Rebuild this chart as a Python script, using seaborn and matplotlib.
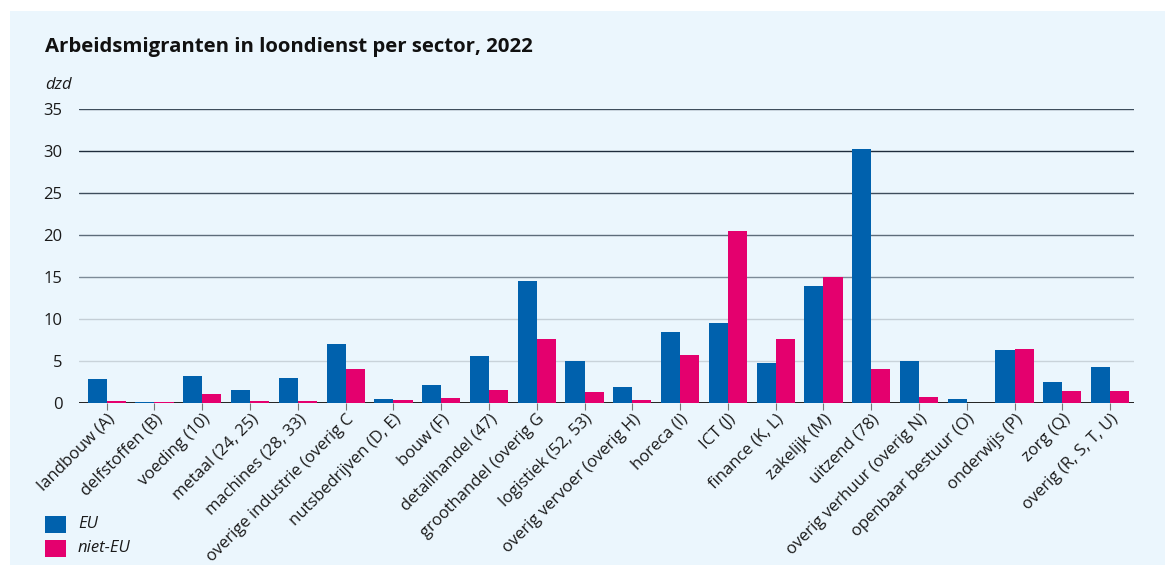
import pandas as pd
import matplotlib.pyplot as plt
import seaborn as sns
from matplotlib.patches import Rectangle

# Data (dzd)
sectors = [
    "landbouw (A)", "delfstoffen (B)", "voeding (10)", "metaal (24, 25)",
    "machines (28, 33)", "overige industrie (overig C", "nutsbedrijven (D, E)",
    "bouw (F)", "detailhandel (47)", "groothandel (overig G", "logistiek (52, 53)",
    "overig vervoer (overig H)", "horeca (I)", "ICT (J)", "finance (K, L)",
    "zakelijk (M)", "uitzend (78)", "overig verhuur (overig N)",
    "openbaar bestuur (O)", "onderwijs (P)", "zorg (Q)", "overig (R, S, T, U)",
]
eu = [2.8, 0.15, 3.25, 1.6, 3.0, 7.0, 0.45, 2.1, 5.55, 14.5, 4.95,
      1.95, 8.4, 9.55, 4.75, 13.9, 30.2, 4.95, 0.45, 6.3, 2.5, 4.3]
niet_eu = [0.2, 0.15, 1.05, 0.2, 0.2, 4.05, 0.3, 0.55, 1.5, 7.6, 1.3,
           0.35, 5.7, 20.5, 7.6, 15.0, 4.1, 0.7, 0.0, 6.4, 1.4, 1.4]
groups = ["EU", "niet-EU"]
yticks = [0, 5, 10, 15, 20, 25, 30, 35]

df = pd.DataFrame({
    "sector": sectors * 2,
    "herkomst": [groups[0]] * len(sectors) + [groups[1]] * len(sectors),
    "waarde": eu + niet_eu,
})

sns.set_theme(style="white")
plt.rcParams["font.family"] = ["Open Sans", "DejaVu Sans"]

bg = "#ebf6fd"
colors = {"EU": "#0061ad", "niet-EU": "#e4006e"}
txt = "#1a1a1a"

fig = plt.figure(figsize=(11.65, 5.69), dpi=100)
fig.patch.set_facecolor("white")
fig.patches.append(Rectangle((10 / 1165, 4 / 569), 1155 / 1165, 554 / 569,
                             transform=fig.transFigure, facecolor=bg,
                             edgecolor="none", zorder=-10))

ax = fig.add_axes([79 / 1165, 1 - 403 / 569, (1134 - 79) / 1165, (403 - 109) / 569])
ax.set_facecolor(bg)

# gridlines, darker towards the top as in the original
grid_cols = {5: "#c9d3da", 10: "#c4ced6", 15: "#7d8b98", 20: "#5d6c7a",
             25: "#3e4d5c", 30: "#1e2c3b", 35: "#3e4d5c"}
for v, c in grid_cols.items():
    ax.axhline(v, color=c, lw=1.0, zorder=0)

ax.axhline(0, color="#111111", lw=1.3, zorder=1)

sns.barplot(data=df, x="sector", y="waarde", hue="herkomst", palette=colors,
            width=0.8, gap=0, saturation=1, legend=False, ax=ax, zorder=2,
            linewidth=0, edgecolor="none")

ax.set_ylim(0, 35)
ax.set_xlim(-0.58, 21.5)
ax.set_yticks(yticks)
ax.set_yticklabels([str(v) for v in yticks], fontsize=12, color=txt)
ax.tick_params(axis="y", length=0, pad=12)
ax.tick_params(axis="x", length=5, width=0.8, color="#777777", bottom=True,
               direction="out", pad=1)
ax.set_xticks(range(len(sectors)))
ax.set_xticklabels(sectors, rotation=45, ha="right", rotation_mode="anchor",
                   fontsize=12, color=txt)
for s in ax.spines.values():
    s.set_visible(False)
ax.set_xlabel("")
ax.set_ylabel("")

fig.text(45 / 1165, 1 - 47 / 569, "Arbeidsmigranten in loondienst per sector, 2022",
         fontsize=14.7, fontweight="bold", color="#111111", va="center", ha="left")
fig.text(45 / 1165, 1 - 85 / 569, "dzd", fontsize=12, style="italic",
         color=txt, va="center", ha="left")

# legend
for i, g in enumerate(groups):
    y = 1 - (524 + i * 24) / 569
    fig.patches.append(Rectangle((45 / 1165, y - 9 / 569), 21 / 1165, 17 / 569,
                                 transform=fig.transFigure,
                                 facecolor=colors[g], edgecolor="none"))
    fig.text(78 / 1165, y, g, fontsize=12, style="italic", color=txt,
             va="center", ha="left")

plt.savefig("out.png", dpi=100, facecolor="white")
plt.close()
